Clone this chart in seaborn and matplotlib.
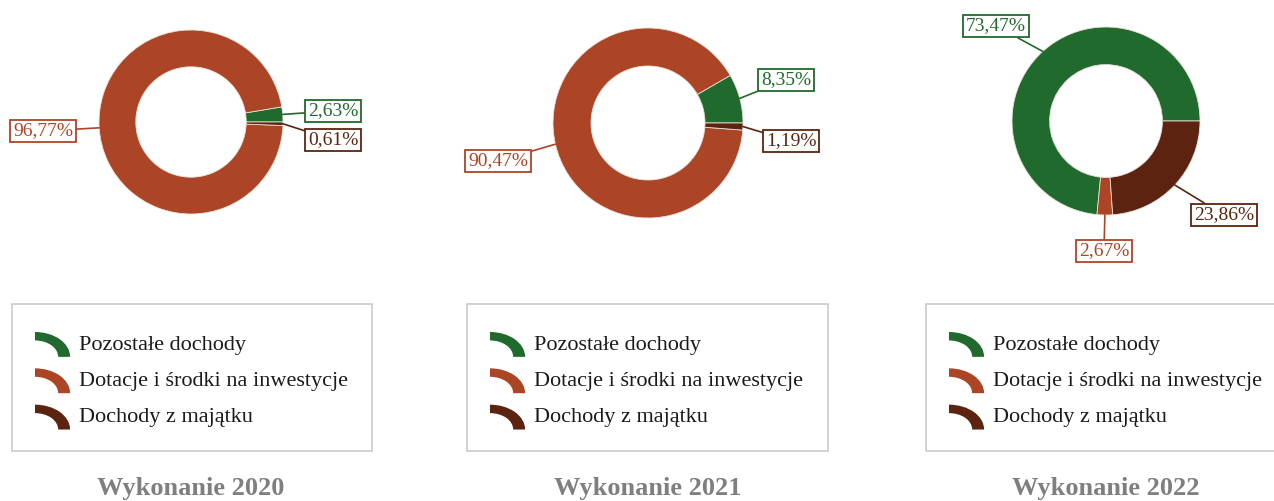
import matplotlib
matplotlib.use("Agg")
import matplotlib.pyplot as plt
import seaborn as sns
import numpy as np
from matplotlib.patches import Wedge, Rectangle
from matplotlib.legend_handler import HandlerBase
from matplotlib.transforms import Affine2D

# data
categories = ["Pozostałe dochody", "Dotacje i środki na inwestycje", "Dochody z majątku"]
years = ["Wykonanie 2020", "Wykonanie 2021", "Wykonanie 2022"]
share_2020 = [2.63, 96.77, 0.61]
share_2021 = [8.35, 90.47, 1.19]
share_2022 = [73.47, 2.67, 23.86]
colors = ["#1f6a2c", "#ac4426", "#5c2410"]

sns.set_theme(style="white")
plt.rcParams["font.family"] = ["Liberation Serif", "DejaVu Serif"]

W, H = 1274, 501
fig = plt.figure(figsize=(W / 100, H / 100), dpi=100)

# layout in pixels: (center x, center y, radius)
pies = [(191, 122, 92), (648, 123, 95), (1106, 121, 94)]
# label box offsets in px (dx, dy up)
label_pos = [
    [(142, 11), (-148, -9), (142, -18)],
    [(138, 43), (-150, -38), (143, -18)],
    [(-110, 95), (-2, -130), (118, -94)],
]
legend_boxes = [(12, 304, 372, 451), (467, 304, 828, 451), (926, 304, 1290, 451)]


class ArcHandler(HandlerBase):
    def create_artists(self, legend, orig_handle, xdescent, ydescent,
                       width, height, fontsize, trans):
        w = Wedge((0, 0), 1, 0, 90, width=0.34,
                  facecolor=orig_handle.get_facecolor(), edgecolor="none")
        h = height * 1.25
        w.set_transform(Affine2D().scale(width, h)
                        .translate(-xdescent, -ydescent - h * 0.2) + trans)
        return [w]


for i, vals in enumerate([share_2020, share_2021, share_2022]):
    cx, cy, R = pies[i]
    ax = fig.add_axes([(cx - R) / W, (H - cy - R) / H, 2 * R / W, 2 * R / H])
    wedges, _ = ax.pie(vals, colors=colors, startangle=0, counterclock=True,
                       radius=1, wedgeprops=dict(width=0.4, edgecolor="#e8e0d8", linewidth=0.6))
    ax.set_xlim(-1, 1)
    ax.set_ylim(-1, 1)
    ax.set_aspect("equal")
    ax.axis("off")

    for wdg, v, (dx, dy), c in zip(wedges, vals, label_pos[i], colors):
        ang = np.deg2rad((wdg.theta1 + wdg.theta2) / 2)
        txt = f"{v:.2f}%".replace(".", ",")
        ax.annotate(txt, xy=(np.cos(ang), np.sin(ang)), xytext=(dx / R, dy / R),
                    ha="center", va="center", fontsize=14, color=c,
                    bbox=dict(boxstyle="square,pad=0.15", fc="white", ec=c, lw=1.3),
                    arrowprops=dict(arrowstyle="-", color=c, lw=1.2,
                                    shrinkA=0, shrinkB=0),
                    annotation_clip=False)

    x1, y1, x2, y2 = legend_boxes[i]
    fig.patches.append(Rectangle((x1 / W, (H - y2) / H), (x2 - x1) / W, (y2 - y1) / H,
                                 transform=fig.transFigure, fill=False,
                                 ec="#c9c9c9", lw=1.2))
    fig.legend(wedges, categories, loc="upper left",
               bbox_to_anchor=((x1 + 23) / W, (H - y1 - 28) / H),
               bbox_transform=fig.transFigure, frameon=False, fontsize=16,
               handlelength=1.58, handleheight=1.0, handletextpad=0.4,
               labelspacing=0.62, borderpad=0, borderaxespad=0,
               labelcolor="#1a1a1a",
               handler_map={Wedge: ArcHandler()})

    fig.text(cx / W, (H - 488) / H, years[i], ha="center", va="center",
             fontsize=19, fontweight="bold", color="#7f7f7f")

fig.savefig("out.png", dpi=100, facecolor="white")
